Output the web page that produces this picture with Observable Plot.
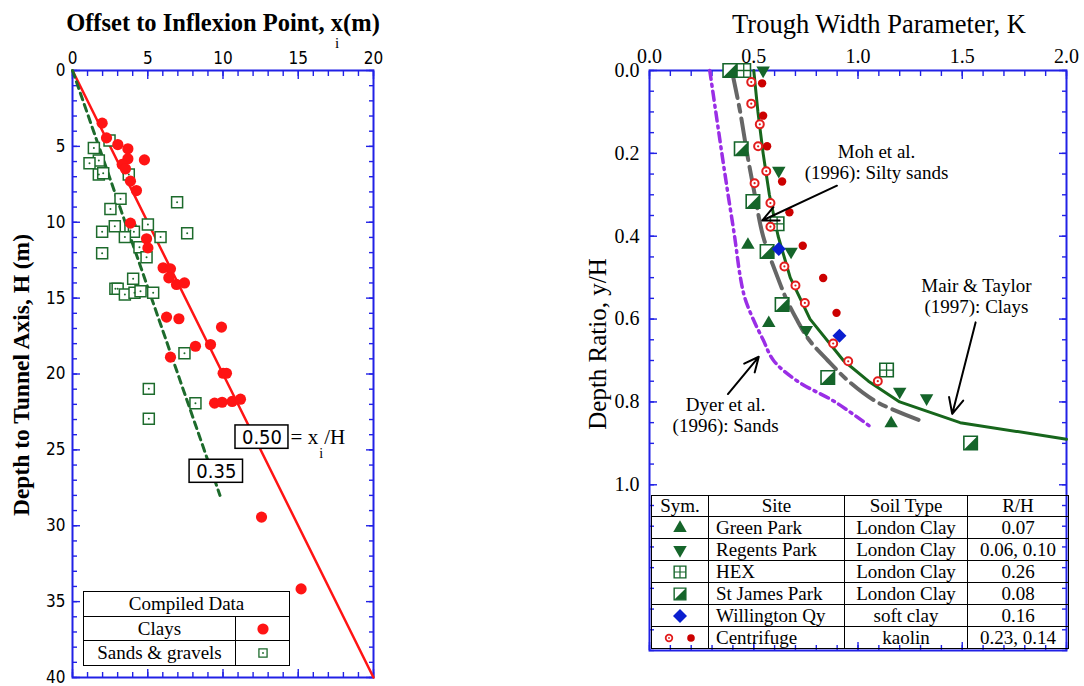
<!DOCTYPE html>
<html>
<head>
<meta charset="utf-8">
<script src="https://cdn.jsdelivr.net/npm/d3@7"></script>
<script src="https://cdn.jsdelivr.net/npm/@observablehq/plot@0.6"></script>
<style>
  body { margin: 0; background: #fff; }
  #page { position: relative; width: 1084px; height: 686px; overflow: hidden; font-family: "Liberation Serif", "Times New Roman", serif; color: #000; }
  .abs { position: absolute; }
  .panel svg { max-width: none !important; }
  .title { white-space: nowrap; line-height: 1; text-align: center; }
  table.key { position: absolute; border-collapse: collapse; font-family: "Liberation Serif", "Times New Roman", serif; font-size: 19px; table-layout: fixed; }
  table.key td { border: 1.5px solid #000; padding: 0; text-align: center; white-space: nowrap; line-height: 18px; }
  table.key td.site { text-align: left; padding-left: 7px; }
  table.key svg { display: block; margin: 0 auto; }
</style>
</head>
<body>
<div id="page"></div>
<script>
// ---------------- Left panel: offset to inflexion point vs tunnel depth ----------------
const clayOffset = [1.97, 2.26, 3.01, 3.68, 3.68, 4.78, 3.30, 3.52, 3.85, 4.25, 3.85, 4.92, 5.01, 6.02, 6.51, 6.40,
                    6.91, 7.44, 6.25, 7.07, 9.90, 8.17, 9.17, 6.51, 10.01, 10.23, 9.44, 9.94, 10.61, 11.16, 12.56, 15.19];
const clayDepth  = [3.47, 4.44, 4.88, 5.16, 5.82, 5.89, 6.19, 6.48, 7.29, 7.91, 10.06, 11.09, 11.69, 13.0, 13.07, 13.66,
                    14.1, 14.0, 16.25, 16.36, 16.91, 18.17, 18.06, 18.89, 19.95, 19.95, 21.92, 21.86, 21.81, 21.66, 29.43, 34.16];
const sandOffset = [2.46, 1.42, 1.75, 1.13, 1.75, 2.04, 3.74, 6.95, 3.19, 2.52, 5.01, 2.81, 1.97, 3.85, 4.08, 7.62,
                    3.48, 5.85, 4.45, 4.92, 1.97, 4.03, 2.85, 3.00, 3.48, 4.12, 4.52, 5.36, 7.44, 5.07, 8.17, 5.07];
const sandDepth  = [4.61, 5.10, 5.93, 6.11, 6.85, 6.77, 6.85, 8.68, 8.46, 9.12, 10.15, 10.26, 10.63, 10.54, 10.63, 10.72,
                    10.98, 10.98, 11.64, 12.30, 12.04, 13.73, 14.39, 14.39, 14.76, 14.65, 14.54, 14.65, 18.63, 20.98, 21.92, 22.95];

// x_i / H trend lines and the depth at which each is drawn to
const ratioValues   = [0.50, 0.35];
const ratioDepthEnd = [40, 28];
const ratioLabels   = ["0.50", "0.35"];
// label boxes (offset x1..x2, depth y1..y2)
const ratioBoxX1 = [10.83, 7.78];
const ratioBoxX2 = [14.35, 11.33];
const ratioBoxY1 = [23.39, 25.65];
const ratioBoxY2 = [24.93, 27.17];

const leftXTicks = [0, 5, 10, 15, 20];
const leftYTicks = [0, 5, 10, 15, 20, 25, 30, 35, 40];

const keyLeftLabels = ["Clays", "Sands & gravels"];

// ---------------- Right panel: trough width parameter vs depth ratio ----------------
const greenParkK = [0.472, 0.572, 1.159];
const greenParkY = [0.421, 0.610, 0.852];
const regentsK = [0.545, 0.620, 0.679, 0.752, 1.200, 1.329];
const regentsY = [0.000, 0.242, 0.437, 0.626, 0.775, 0.791];
const hexK = [0.452, 0.612, 1.137];
const hexY = [0.000, 0.370, 0.723];
const stJamesK = [0.385, 0.440, 0.496, 0.564, 0.636, 0.855, 1.540];
const stJamesY = [0.000, 0.189, 0.316, 0.437, 0.565, 0.741, 0.899];
const willingtonK = [0.620, 0.911];
const willingtonY = [0.431, 0.640];
const centrifugeOpenK = [0.488, 0.488, 0.529, 0.521, 0.560, 0.504, 0.580, 0.580, 0.647, 0.700, 0.745, 0.881, 0.953, 1.095];
const centrifugeOpenY = [0.028, 0.080, 0.130, 0.183, 0.243, 0.272, 0.320, 0.377, 0.473, 0.519, 0.561, 0.659, 0.702, 0.750];
const centrifugeFillK = [0.540, 0.545, 0.564, 0.636, 0.671, 0.735, 0.833, 0.897];
const centrifugeFillY = [0.031, 0.109, 0.183, 0.268, 0.342, 0.423, 0.501, 0.585];

// design curves
const mairY = [0, 0.1, 0.2, 0.3, 0.4, 0.5, 0.6, 0.7, 0.75, 0.8, 0.85, 0.89];
const mairK = [0.50, 0.52, 0.545, 0.575, 0.617, 0.675, 0.77, 0.93, 1.05, 1.20, 1.49, 2.0];
const mohY  = [0, 0.1, 0.2, 0.3, 0.4, 0.5, 0.55, 0.6, 0.65, 0.7, 0.75, 0.8, 0.845];
const mohK  = [0.395, 0.435, 0.468, 0.505, 0.545, 0.615, 0.655, 0.705, 0.765, 0.855, 0.955, 1.09, 1.30];
const dyerY = [0, 0.1, 0.2, 0.3, 0.4, 0.5, 0.55, 0.6, 0.65, 0.7, 0.75, 0.8, 0.86];
const dyerK = [0.289, 0.318, 0.347, 0.377, 0.408, 0.436, 0.458, 0.497, 0.545, 0.595, 0.71, 0.89, 1.06];

// curve annotations
const noteText = ["Moh et al.\n(1996): Silty sands", "Mair & Taylor\n(1997): Clays", "Dyer et al.\n(1996): Sands"];
const noteK = [1.089, 1.568, 0.365];
const noteY = [0.220, 0.543, 0.830];
const arrowK1 = [0.899, 1.564, 0.376];
const arrowY1 = [0.278, 0.608, 0.781];
const arrowK2 = [0.541, 1.452, 0.524];
const arrowY2 = [0.362, 0.829, 0.691];

const rightXTicks = [0, 0.5, 1.0, 1.5, 2.0];
const rightYTicks = [0, 0.2, 0.4, 0.6, 0.8, 1.0];

const keySites = ["Green Park", "Regents Park", "HEX", "St James Park", "Willington Qy", "Centrifuge"];
const keySoils = ["London Clay", "London Clay", "London Clay", "London Clay", "soft clay", "kaolin"];
const keyRH    = ["0.07", "0.06, 0.10", "0.26", "0.08", "0.16", "0.23, 0.14"];

// ---------------- styling ----------------
const FRAME = "#2121e6";
const CLAY_RED = "#ff1414";
const SAND_GREEN = "#1d6b2c";
const SITE_GREEN = "#15652a";
const CURVE_GREEN = "#17661c";
const PURPLE = "#9a2ee6";
const GREY = "#666666";
const DIAMOND_BLUE = "#0a1fd0";
const CENT_RED = "#e21d1d";
const CENT_DARK = "#cc0000";
const SERIF = "'Liberation Serif', 'Times New Roman', serif";
const NARROW = "'Liberation Sans Narrow', 'DejaVu Sans Condensed', 'DejaVu Sans', sans-serif";

// custom marker shapes (d3 symbol protocol)
const gridCross = { draw(ctx, size) { const h = Math.sqrt(size) / 2; ctx.moveTo(0, -h); ctx.lineTo(0, h); ctx.moveTo(-h, 0); ctx.lineTo(h, 0); } };
const halfSquare = { draw(ctx, size) { const h = Math.sqrt(size) / 2; ctx.moveTo(h, -h); ctx.lineTo(h, h); ctx.lineTo(-h, h); ctx.closePath(); } };

// inward ticks on all four sides of a frame
function frameTicks(xMinor, xMajor, yMinor, yMajor) {
  const c = { stroke: FRAME, strokeWidth: 1.4, fill: "none", label: null };
  return [
    Plot.axisX(xMinor, { ...c, anchor: "top", tickSize: -5 }),
    Plot.axisX(xMinor, { ...c, anchor: "bottom", tickSize: -5 }),
    Plot.axisX(xMajor, { ...c, anchor: "top", tickSize: -8 }),
    Plot.axisX(xMajor, { ...c, anchor: "bottom", tickSize: -8 }),
    Plot.axisY(yMinor, { ...c, anchor: "left", tickSize: -5 }),
    Plot.axisY(yMinor, { ...c, anchor: "right", tickSize: -5 }),
    Plot.axisY(yMajor, { ...c, anchor: "left", tickSize: -8 }),
    Plot.axisY(yMajor, { ...c, anchor: "right", tickSize: -8 })
  ];
}

const zip = (xs, ys) => xs.map((x, i) => ({ x, y: ys[i] }));

// ---------------- build left panel ----------------
const clays = zip(clayOffset, clayDepth);
const sands = zip(sandOffset, sandDepth);
const trendLines = ratioValues.map((r, i) => [{ x: 0, y: 0 }, { x: r * ratioDepthEnd[i], y: ratioDepthEnd[i] }]);
const boxes = ratioLabels.map((t, i) => ({ t, x1: ratioBoxX1[i], x2: ratioBoxX2[i], y1: ratioBoxY1[i], y2: ratioBoxY2[i] }));

const leftPlot = Plot.plot({
  width: 400, height: 686,
  marginLeft: 72, marginRight: 27, marginTop: 70, marginBottom: 9,
  x: { domain: [0, 20] },
  y: { domain: [0, 40], reverse: true },
  style: { fontFamily: NARROW, fontSize: "17px", color: "#000", background: "transparent" },
  marks: [
    ...frameTicks(d3.range(0, 21, 1), leftXTicks, d3.range(0, 41, 1), leftYTicks),
    Plot.axisX(leftXTicks, { anchor: "top", tickSize: 0, tickPadding: 7, label: null }),
    Plot.axisY(leftYTicks, { anchor: "left", tickSize: 0, tickPadding: 7, label: null }),
    Plot.frame({ stroke: FRAME, strokeWidth: 2 }),
    Plot.line(trendLines[0], { x: "x", y: "y", stroke: CLAY_RED, strokeWidth: 2.5 }),
    Plot.line(trendLines[1], { x: "x", y: "y", stroke: SAND_GREEN, strokeWidth: 3, strokeDasharray: "7,5" }),
    Plot.dot(sands, { x: "x", y: "y", symbol: "square", r: 6.2, fill: "white", stroke: SAND_GREEN, strokeWidth: 1.5 }),
    Plot.dot(sands, { x: "x", y: "y", r: 1, fill: SAND_GREEN }),
    Plot.dot(clays, { x: "x", y: "y", r: 5.6, fill: CLAY_RED }),
    Plot.rect(boxes, { x1: "x1", x2: "x2", y1: "y1", y2: "y2", fill: "white", stroke: "#000", strokeWidth: 1.5 }),
    Plot.text(boxes, { x: d => (d.x1 + d.x2) / 2, y: d => (d.y1 + d.y2) / 2, text: "t", fontSize: 20, fontFamily: NARROW }),
    Plot.text(["= x"], { x: [14.49], y: [24.61], text: d => d, textAnchor: "start", lineAnchor: "bottom", fontFamily: SERIF, fontSize: 21 }),
    Plot.text(["i"], { x: [16.52], y: [25.55], text: d => d, lineAnchor: "bottom", fontFamily: SERIF, fontSize: 14 }),
    Plot.text(["/H"], { x: [16.72], y: [24.61], text: d => d, textAnchor: "start", lineAnchor: "bottom", fontFamily: SERIF, fontSize: 21 })
  ]
});

// ---------------- build right panel ----------------
const asPts = (ks, ys) => ks.map((k, i) => ({ k, y: ys[i] }));
const mair = asPts(mairK, mairY), moh = asPts(mohK, mohY), dyer = asPts(dyerK, dyerY);
const greenPark = asPts(greenParkK, greenParkY), regents = asPts(regentsK, regentsY);
const hex = asPts(hexK, hexY), stJames = asPts(stJamesK, stJamesY), willington = asPts(willingtonK, willingtonY);
const centOpen = asPts(centrifugeOpenK, centrifugeOpenY), centFill = asPts(centrifugeFillK, centrifugeFillY);
const notes = noteText.map((t, i) => ({ t, k: noteK[i], y: noteY[i], k1: arrowK1[i], y1: arrowY1[i], k2: arrowK2[i], y2: arrowY2[i] }));
const P = { x: "k", y: "y" };

const rightPlot = Plot.plot({
  width: 524, height: 686,
  marginLeft: 89, marginRight: 18, marginTop: 70, marginBottom: 36,
  x: { domain: [0, 2] },
  y: { domain: [0, 1.4], reverse: true },
  style: { fontFamily: SERIF, fontSize: "20px", color: "#000", background: "transparent" },
  marks: [
    ...frameTicks(d3.range(0, 20.5, 1).map(d => d / 10), rightXTicks, d3.range(0, 28.5, 1).map(d => d / 20), rightYTicks),
    Plot.axisX(rightXTicks, { anchor: "top", tickSize: 0, tickPadding: 8, label: null, tickFormat: d3.format(".1f") }),
    Plot.axisY(rightYTicks, { anchor: "left", tickSize: 0, tickPadding: 10, label: null, tickFormat: d3.format(".1f") }),
    Plot.frame({ stroke: FRAME, strokeWidth: 2 }),
    Plot.line(dyer, { ...P, stroke: PURPLE, strokeWidth: 3.5, strokeDasharray: "9,5,2,5", curve: "catmull-rom" }),
    Plot.line(moh, { ...P, stroke: GREY, strokeWidth: 4, strokeDasharray: "28,7,7,7", curve: "catmull-rom" }),
    Plot.line(mair, { ...P, stroke: CURVE_GREEN, strokeWidth: 3 }),
    Plot.dot(stJames, { ...P, symbol: "square", r: 7.6, fill: "white", stroke: SITE_GREEN, strokeWidth: 1.6 }),
    Plot.dot(stJames, { ...P, symbol: halfSquare, r: 7.6, fill: SITE_GREEN }),
    Plot.dot(hex, { ...P, symbol: "square", r: 7.6, fill: "white", stroke: SITE_GREEN, strokeWidth: 1.6 }),
    Plot.dot(hex, { ...P, symbol: gridCross, r: 7.6, fill: "none", stroke: SITE_GREEN, strokeWidth: 1.3 }),
    Plot.dot(greenPark, { ...P, symbol: "triangle", r: 5, fill: SITE_GREEN }),
    Plot.dot(regents, { ...P, symbol: "triangle", r: 5, fill: SITE_GREEN, rotate: 180 }),
    Plot.dot(willington, { ...P, symbol: "diamond2", r: 6.3, fill: DIAMOND_BLUE }),
    Plot.dot(centFill, { ...P, r: 4.2, fill: CENT_DARK }),
    Plot.dot(centOpen, { ...P, r: 4, fill: "white", stroke: CENT_RED, strokeWidth: 2 }),
    Plot.dot(centOpen, { ...P, r: 1.1, fill: CENT_RED }),
    Plot.arrow(notes, { x1: "k1", y1: "y1", x2: "k2", y2: "y2", stroke: "#000", strokeWidth: 2, headLength: 13, headAngle: 50 }),
    Plot.text(notes, { x: "k", y: "y", text: "t", fontFamily: SERIF, fontSize: 19, lineHeight: 1.12, lineAnchor: "middle" })
  ]
});

// ---------------- assemble the page ----------------
const page = d3.select("#page");
page.append("div").attr("class", "abs panel").style("left", "0px").style("top", "0px").style("width", "400px").node().append(leftPlot);
page.append("div").attr("class", "abs panel").style("left", "560px").style("top", "0px").style("width", "524px").node().append(rightPlot);

// titles
page.append("div").attr("class", "abs title")
  .style("left", "0px").style("top", "11px").style("width", "446px")
  .style("font-size", "24.5px").style("font-weight", "bold")
  .text("Offset to Inflexion Point, x(m)");
// subscript i sitting under the x of the title
page.append("div").attr("class", "abs title")
  .style("left", "335px").style("top", "36px")
  .style("font-size", "15px")
  .text("i");
page.append("div").attr("class", "abs title")
  .style("left", "22px").style("top", "375px")
  .style("font-size", "23.5px").style("font-weight", "bold")
  .style("transform", "translate(-50%,-50%) rotate(-90deg)")
  .text("Depth to Tunnel Axis, H (m)");
page.append("div").attr("class", "abs title")
  .style("left", "660px").style("top", "11px").style("width", "438px")
  .style("font-size", "26.5px")
  .text("Trough Width Parameter, K");
page.append("div").attr("class", "abs title")
  .style("left", "597px").style("top", "344px")
  .style("font-size", "25px")
  .style("transform", "translate(-50%,-50%) rotate(-90deg)")
  .text("Depth Ratio, y/H");

// small marker icon used inside the key tables
function icon(parent, w, h, parts) {
  const svg = parent.append("svg").attr("width", w).attr("height", h);
  parts.forEach(p => {
    const r = p.r;
    svg.append("path")
      .attr("d", d3.symbol(p.type, r * r * Math.PI)())
      .attr("transform", `translate(${p.cx},${h / 2}) rotate(${p.rotate || 0})`)
      .attr("fill", p.fill || "none")
      .attr("stroke", p.stroke || "none")
      .attr("stroke-width", p.sw || 0);
  });
}

// left key table
const lt = page.append("table").attr("class", "key")
  .style("left", "83px").style("top", "591px").style("width", "206px").style("background", "#fff");
const lcg = lt.append("colgroup");
lcg.append("col").style("width", "152px");
lcg.append("col").style("width", "54px");
lt.append("tr").style("height", "25px").append("td").attr("colspan", 2).text("Compiled Data");
const leftIcons = [
  [{ type: d3.symbolCircle, r: 5.6, fill: CLAY_RED, cx: 27 }],
  [{ type: d3.symbolSquare, r: 4.6, fill: "white", stroke: SAND_GREEN, sw: 1.3, cx: 27 }, { type: d3.symbolCircle, r: 0.9, fill: SAND_GREEN, cx: 27 }]
];
keyLeftLabels.forEach((lab, i) => {
  const tr = lt.append("tr").style("height", i === 0 ? "24px" : "25px");
  tr.append("td").text(lab);
  icon(tr.append("td"), 54, 20, leftIcons[i]);
});

// right key table
const rt = page.append("table").attr("class", "key")
  .style("left", "651px").style("top", "495px").style("width", "417px");
const rcg = rt.append("colgroup");
[57, 136, 123, 101].forEach(w => rcg.append("col").style("width", w + "px"));
const hdr = rt.append("tr").style("height", "21px");
["Sym.", "Site", "Soil Type", "R/H"].forEach(h => hdr.append("td").text(h));
const rightIcons = [
  [{ type: d3.symbolTriangle, r: 5, fill: SITE_GREEN, cx: 28 }],
  [{ type: d3.symbolTriangle, r: 5, fill: SITE_GREEN, cx: 28, rotate: 180 }],
  [{ type: d3.symbolSquare, r: 6.6, fill: "white", stroke: SITE_GREEN, sw: 1.4, cx: 28 }, { type: gridCross, r: 6.6, stroke: SITE_GREEN, sw: 1.2, cx: 28 }],
  [{ type: d3.symbolSquare, r: 6.6, fill: "white", stroke: SITE_GREEN, sw: 1.4, cx: 28 }, { type: halfSquare, r: 6.6, fill: SITE_GREEN, cx: 28 }],
  [{ type: d3.symbolDiamond2, r: 6.3, fill: DIAMOND_BLUE, cx: 28 }],
  [{ type: d3.symbolCircle, r: 3.3, fill: "white", stroke: CENT_RED, sw: 1.8, cx: 17 }, { type: d3.symbolCircle, r: 0.9, fill: CENT_RED, cx: 17 },
   { type: d3.symbolCircle, r: 3.8, fill: CENT_DARK, cx: 39 }]
];
keySites.forEach((site, i) => {
  const tr = rt.append("tr").style("height", "22px");
  icon(tr.append("td"), 57, 18, rightIcons[i]);
  tr.append("td").attr("class", "site").text(site);
  tr.append("td").text(keySoils[i]);
  tr.append("td").text(keyRH[i]);
});
</script>
</body>
</html>
